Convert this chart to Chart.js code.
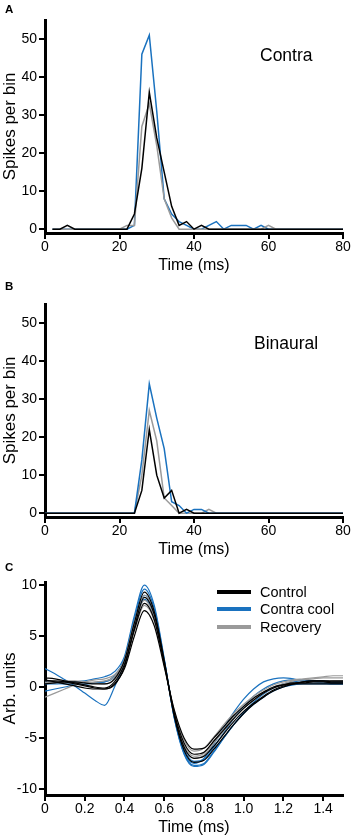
<!DOCTYPE html>
<html>
<head>
<meta charset="utf-8">
<script src="https://cdn.jsdelivr.net/npm/chart.js@4.4.1/dist/chart.umd.min.js"></script>
<style>
  html, body { margin: 0; padding: 0; background: #fff; overflow: hidden; }
  #page { position: relative; width: 353px; height: 839px; font-family: "Liberation Sans", Arial, sans-serif; color: #000; }
  canvas { position: absolute; left: 0; }
  .tag { position: absolute; left: 5px; font-weight: bold; font-size: 11.5px; line-height: 12px; }
  .note { position: absolute; font-size: 17.5px; line-height: 20px; }
  .key { position: absolute; left: 217px; font-size: 14.5px; line-height: 16px; white-space: nowrap; }
  .key span { display: inline-block; width: 34px; height: 4px; vertical-align: middle; margin-right: 9px; position: relative; top: -1px; }
</style>
</head>
<body>
<div id="page">
  <canvas id="panelA" width="353" height="280" style="top:0px"></canvas>
  <canvas id="panelB" width="353" height="280" style="top:284px"></canvas>
  <canvas id="panelC" width="353" height="280" style="top:562px"></canvas>

  <div class="tag" style="top:3px">A</div>
  <div class="tag" style="top:280px">B</div>
  <div class="tag" style="top:561px">C</div>

  <div class="note" style="left:260px; top:45px">Contra</div>
  <div class="note" style="left:254px; top:333px">Binaural</div>

  <div class="key" style="top:584px"><span style="background:#000"></span>Control</div>
  <div class="key" style="top:601px"><span style="background:#1a72bf"></span>Contra cool</div>
  <div class="key" style="top:619px"><span style="background:#9a9a9a"></span>Recovery</div>
</div>

<script>
// --- panel A: contra stimulation PSTH (2 ms bins)
var binsA = [2, 4, 6, 8, 10, 12, 14, 16, 18, 20, 22, 24, 26, 28, 30, 32, 34, 36, 38, 40,
             42, 44, 46, 48, 50, 52, 54, 56, 58, 60, 62, 64, 66, 68, 70, 72, 74, 76, 78, 80];
var controlA  = [0, 0, 1, 0, 0, 0, 0, 0, 0, 0, 0, 4, 16, 36, 24, 15, 6, 1, 2, 0,
                 1, 0, 0, 0, 0, 0, 0, 0, 0, 0, 0, 0, 0, 0, 0, 0, 0, 0, 0, 0];
var recoveryA = [0, 0, 0, 0, 0, 0, 0, 0, 0, 0, 1, 1, 27, 33, 22, 8, 3, 0, 0, 0,
                 0, 0, 0, 0, 0, 0, 0, 0, 0, 1, 0, 0, 0, 0, 0, 0, 0, 0, 0, 0];
var coolA     = [0, 0, 0, 0, 0, 0, 0, 0, 0, 0, 0, 1, 46, 51, 31, 8, 4, 2, 1, 0,
                 0, 1, 2, 0, 1, 1, 1, 0, 1, 0, 0, 0, 0, 0, 0, 0, 0, 0, 0, 0];

// --- panel B: binaural stimulation PSTH
var binsB = [0, 2, 4, 6, 8, 10, 12, 14, 16, 18, 20, 22, 24, 26, 28, 30, 32, 34, 36, 38, 40,
             42, 44, 46, 48, 50, 52, 54, 56, 58, 60, 62, 64, 66, 68, 70, 72, 74, 76, 78, 80];
var controlB  = [0, 0, 0, 0, 0, 0, 0, 0, 0, 0, 0, 0, 0, 6, 22, 10, 4, 6, 0, 1, 0,
                 0, 0, 0, 0, 0, 0, 0, 0, 0, 0, 0, 0, 0, 0, 0, 0, 0, 0, 0, 0];
var coolB     = [0, 0, 0, 0, 0, 0, 0, 0, 0, 0, 0, 0, 0, 14, 34, 25, 17, 3, 2, 0, 1,
                 1, 0, 0, 0, 0, 0, 0, 0, 0, 0, 0, 0, 0, 0, 0, 0, 0, 0, 0, 0];
var recoveryB = [0, 0, 0, 0, 0, 0, 0, 0, 0, 0, 0, 0, 0, 10, 27, 19, 4, 2, 0, 0, 0,
                 0, 1, 0, 0, 0, 0, 0, 0, 0, 0, 0, 0, 0, 0, 0, 0, 0, 0, 0, 0];

// --- panel C: spike waveforms (arb. units), sampled every 0.05 ms
var waveTime = [0, 0.05, 0.1, 0.15, 0.2, 0.25, 0.3, 0.35, 0.4, 0.45, 0.5, 0.55, 0.6, 0.65, 0.7,
                0.75, 0.8, 0.85, 0.9, 0.95, 1.0, 1.05, 1.1, 1.15, 1.2, 1.25, 1.3, 1.35, 1.4, 1.45, 1.5];
var controlWaves = [
  [0.6, 0.6, 0.5, 0.3, 0.1, -0.1, -0.2, 0.3, 1.8, 5.0, 7.5, 6.0, 2.0, -2.2, -5.0, -6.1, -6.0, -5.0, -3.9, -2.8, -1.9, -1.1, -0.5, 0.0, 0.2, 0.3, 0.3, 0.3, 0.3, 0.3, 0.3],
  [0.9, 0.8, 0.6, 0.4, 0.2, 0.0, -0.1, 0.5, 2.2, 5.6, 8.2, 6.6, 2.3, -2.5, -5.5, -6.6, -6.4, -5.3, -4.2, -3.1, -2.1, -1.3, -0.6, -0.1, 0.2, 0.4, 0.4, 0.5, 0.5, 0.4, 0.4],
  [0.3, 0.4, 0.5, 0.5, 0.4, 0.3, 0.3, 0.8, 2.6, 6.3, 9.3, 7.4, 2.6, -2.7, -5.9, -7.0, -6.8, -5.8, -4.6, -3.4, -2.4, -1.6, -0.9, -0.3, 0.1, 0.3, 0.5, 0.6, 0.6, 0.6, 0.6],
  [0.7, 0.5, 0.3, 0.1, -0.1, -0.2, -0.2, 0.2, 2.0, 5.8, 8.8, 7.1, 2.5, -2.8, -6.2, -7.4, -7.2, -6.1, -4.9, -3.7, -2.6, -1.7, -1.0, -0.4, 0.0, 0.3, 0.5, 0.6, 0.6, 0.5, 0.5]
];
var recoveryWaves = [
  [-1.0, -0.6, -0.2, 0.2, 0.5, 0.7, 0.8, 1.2, 2.6, 6.0, 8.5, 6.8, 2.3, -2.3, -5.2, -6.3, -6.0, -4.9, -3.7, -2.6, -1.7, -0.9, -0.3, 0.2, 0.5, 0.7, 0.8, 0.9, 1.0, 1.1, 1.1],
  [0.4, 0.5, 0.6, 0.6, 0.5, 0.4, 0.3, 0.7, 2.3, 5.5, 8.0, 6.5, 2.2, -2.6, -5.7, -6.8, -6.5, -5.3, -4.1, -2.9, -1.9, -1.1, -0.5, 0.0, 0.3, 0.4, 0.5, 0.5, 0.5, 0.6, 0.6],
  [0.5, 0.4, 0.4, 0.4, 0.4, 0.5, 0.6, 1.0, 2.7, 6.4, 9.0, 7.2, 2.5, -2.7, -5.9, -7.0, -6.7, -5.5, -4.3, -3.1, -2.1, -1.3, -0.6, -0.1, 0.3, 0.6, 0.7, 0.8, 0.9, 0.9, 0.9]
];
var coolWaves = [
  [1.8, 1.3, 0.7, 0.1, -0.6, -1.3, -1.8, 0.0, 2.4, 5.8, 9.0, 7.3, 2.6, -2.6, -6.0, -7.3, -7.1, -5.9, -4.5, -3.1, -1.9, -0.9, -0.2, 0.3, 0.6, 0.7, 0.7, 0.6, 0.5, 0.4, 0.4],
  [0.3, 0.3, 0.4, 0.5, 0.6, 0.8, 1.0, 1.5, 3.0, 7.0, 10.0, 8.0, 2.8, -3.0, -6.6, -7.8, -7.6, -6.4, -5.0, -3.7, -2.5, -1.5, -0.7, -0.1, 0.3, 0.5, 0.6, 0.6, 0.6, 0.5, 0.5],
  [-0.4, -0.2, 0.0, 0.2, 0.3, 0.4, 0.5, 1.0, 2.8, 6.7, 9.6, 7.7, 2.7, -2.9, -6.4, -7.5, -7.0, -5.6, -4.0, -2.5, -1.2, -0.2, 0.5, 0.8, 0.9, 0.8, 0.6, 0.5, 0.4, 0.3, 0.3],
  [0.5, 0.4, 0.3, 0.3, 0.3, 0.4, 0.5, 1.1, 2.7, 6.1, 8.6, 7.0, 2.5, -2.9, -6.5, -7.7, -7.5, -6.3, -5.0, -3.7, -2.6, -1.7, -1.0, -0.4, 0.0, 0.2, 0.3, 0.3, 0.3, 0.3, 0.3]
];

var BLACK = '#000000', BLUE = '#1a72bf', GRAY = '#9a9a9a';

Chart.defaults.font.family = '"Liberation Sans", Arial, sans-serif';
Chart.defaults.color = '#000';

function pairs(xs, ys) {
  return xs.map(function (x, i) { return { x: x, y: ys[i] }; });
}

function line(xs, ys, color, smooth) {
  return {
    data: pairs(xs, ys),
    borderColor: color,
    borderWidth: smooth ? 1.2 : 1.5,
    pointRadius: 0,
    fill: false,
    tension: 0,
    cubicInterpolationMode: smooth ? 'monotone' : 'default'
  };
}

// black axes with outward ticks, no grid inside the plot
function axis(min, max, step, title, fmt, isX) {
  var a = {
    type: 'linear',
    min: min,
    max: max,
    ticks: { stepSize: step, includeBounds: false, padding: isX ? 0 : 2, color: '#000', font: { size: 14 } },
    grid: { display: true, drawOnChartArea: false, drawTicks: true, tickLength: 6, lineWidth: 2, color: '#000' },
    border: { display: true, color: '#000', width: 3 },
    title: { display: true, text: title, color: '#000', font: { size: isX ? 16 : 17 },
             padding: isX ? { top: 0, bottom: 5 } : { top: 0, bottom: 0 } }
  };
  if (fmt) a.ticks.callback = fmt;
  a.afterFit = isX ? function (s) { s.height = 47; } : function (s) { s.width = 45; };
  return a;
}

function makeChart(id, datasets, xAxis, yAxis) {
  return new Chart(document.getElementById(id), {
    type: 'line',
    data: { datasets: datasets },
    options: {
      responsive: false,
      animation: false,
      devicePixelRatio: 1,
      layout: { padding: { top: 20, right: 10, left: 0, bottom: 0 } },
      plugins: { legend: { display: false }, tooltip: { enabled: false } },
      scales: { x: xAxis, y: yAxis }
    }
  });
}

var intFmt = function (v) { return String(v); };
var msFmt = function (v) { return v === 0 ? '0' : v.toFixed(1); };

makeChart('panelA',
  [line(binsA, controlA, BLACK), line(binsA, recoveryA, GRAY), line(binsA, coolA, BLUE)],
  axis(0, 80, 20, 'Time (ms)', intFmt, true),
  axis(-1, 55, 10, 'Spikes per bin', intFmt, false));

makeChart('panelB',
  [line(binsB, controlB, BLACK), line(binsB, coolB, BLUE), line(binsB, recoveryB, GRAY)],
  axis(0, 80, 20, 'Time (ms)', intFmt, true),
  axis(-1, 55, 10, 'Spikes per bin', intFmt, false));

var waveSets = [];
controlWaves.forEach(function (w) { waveSets.push(line(waveTime, w, BLACK, true)); });
recoveryWaves.forEach(function (w) { waveSets.push(line(waveTime, w, GRAY, true)); });
coolWaves.forEach(function (w) { waveSets.push(line(waveTime, w, BLUE, true)); });

makeChart('panelC', waveSets,
  axis(0, 1.5, 0.2, 'Time (ms)', msFmt, true),
  axis(-10.6, 10.3, 5, 'Arb. units', intFmt, false));
</script>
</body>
</html>
